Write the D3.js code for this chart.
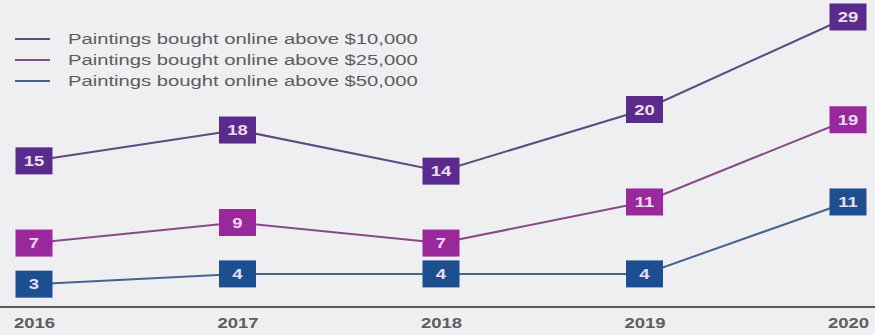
<!DOCTYPE html>
<html>
<head>
<meta charset="utf-8">
<script src="https://cdn.jsdelivr.net/npm/d3@7"></script>
<style>
  html, body { margin: 0; padding: 0; background: #efeff2; }
  svg { display: block; font-family: "Liberation Sans", Arial, sans-serif; }
</style>
</head>
<body>
<svg id="chart" width="875" height="335"></svg>
<script>
// Online painting purchases by year and price threshold
const years = ["2016", "2017", "2018", "2019", "2020"];
const above10k = [15, 18, 14, 20, 29];
const above25k = [7, 9, 7, 11, 19];
const above50k = [3, 4, 4, 4, 11];
const seriesNames = [
  "Paintings bought online above $10,000",
  "Paintings bought online above $25,000",
  "Paintings bought online above $50,000"
];

const series = [
  { name: seriesNames[0], values: above10k, box: "#5b2a8f", line: "#5d4a7e" },
  { name: seriesNames[1], values: above25k, box: "#99289a", line: "#874a88" },
  { name: seriesNames[2], values: above50k, box: "#1b4f90", line: "#46648c" }
];

const W = 875, H = 335;
const stretch = 1.32; // wide typeface proportion
const svg = d3.select("#chart");

svg.append("rect").attr("width", W).attr("height", H).attr("fill", "#efeff2");

const x = d3.scalePoint().domain(years).range([34, 848]);
const y = d3.scaleLinear().domain([0, 29]).range([315, 17]);

// baseline axis
const axisY = 307;
svg.append("line")
  .attr("x1", 0).attr("x2", W)
  .attr("y1", axisY).attr("y2", axisY)
  .attr("stroke", "#5a5a5a").attr("stroke-width", 2);

const axis = svg.append("g")
  .attr("transform", `translate(0,${axisY})`)
  .call(d3.axisBottom(x).tickSize(0).tickPadding(11));
axis.select(".domain").remove();
axis.selectAll("text")
  .attr("fill", "#5e5e5e")
  .attr("font-size", 14)
  .attr("font-weight", "bold")
  .attr("font-family", "'Liberation Sans', Arial, sans-serif")
  .attr("transform", `scale(${stretch},1)`);

// lines
const lineGen = d3.line()
  .x((d, i) => x(years[i]))
  .y(d => y(d));

series.forEach(s => {
  svg.append("path")
    .datum(s.values)
    .attr("d", lineGen)
    .attr("fill", "none")
    .attr("stroke", s.line)
    .attr("stroke-width", 2);
});

// value boxes
const bw = 37, bh = 27;
series.forEach(s => {
  const g = svg.append("g");
  const pts = g.selectAll("g.pt")
    .data(s.values)
    .join("g")
    .attr("class", "pt")
    .attr("transform", (d, i) => `translate(${x(years[i])},${y(d)})`);
  pts.append("rect")
    .attr("x", -bw / 2).attr("y", -bh / 2)
    .attr("width", bw).attr("height", bh)
    .attr("fill", s.box);
  pts.append("text")
    .attr("transform", `scale(${stretch},1)`)
    .attr("text-anchor", "middle")
    .attr("dy", "0.36em")
    .attr("font-size", 14)
    .attr("font-weight", "bold")
    .attr("fill", "#ecdcf2")
    .text(d => d);
});

// legend
const legend = svg.append("g");
series.forEach((s, i) => {
  const ly = 39 + i * 21;
  legend.append("line")
    .attr("x1", 15).attr("x2", 50)
    .attr("y1", ly).attr("y2", ly)
    .attr("stroke", s.line).attr("stroke-width", 2);
  legend.append("text")
    .attr("transform", `translate(68,${ly}) scale(1.35,1)`)
    .attr("dy", "0.35em")
    .attr("font-size", 15)
    .attr("fill", "#5c5c5c")
    .text(s.name);
});
</script>
</body>
</html>
